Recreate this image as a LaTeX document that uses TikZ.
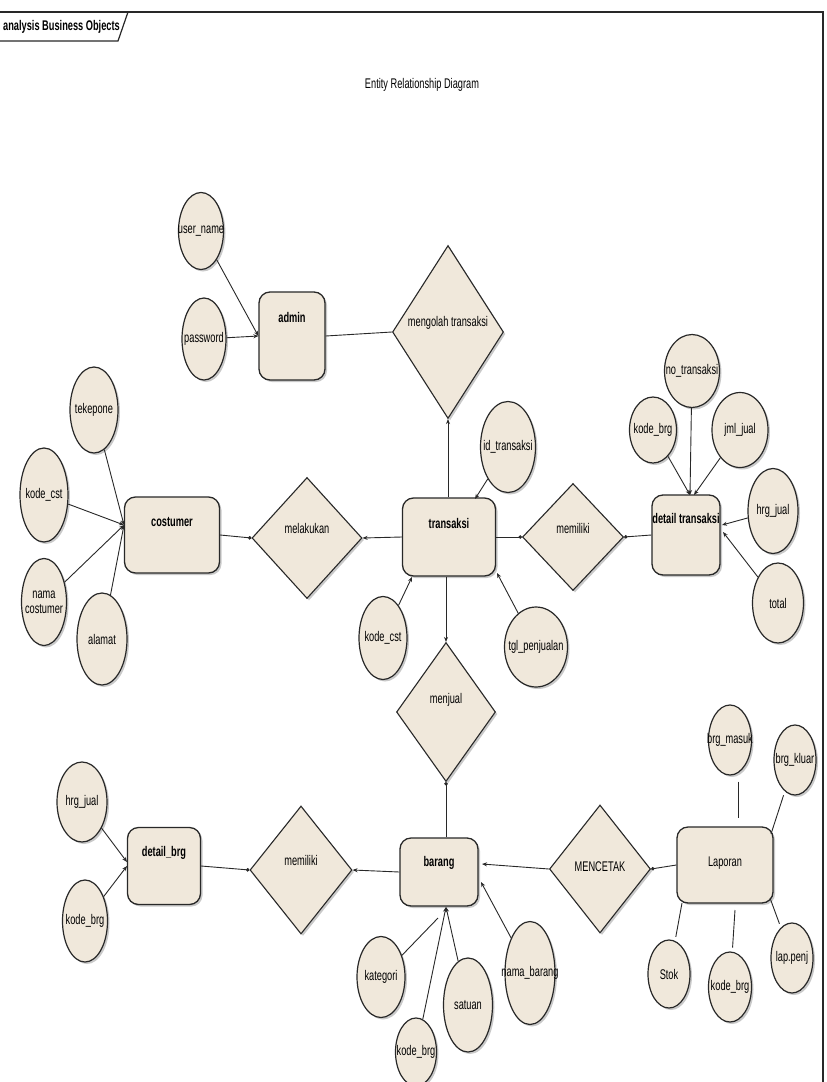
\documentclass[tikz,border=0pt]{standalone}
\usepackage{fontspec}
\setmainfont{Liberation Sans}[FakeStretch=0.66]
\usetikzlibrary{shapes.geometric,arrows.meta,shadows}
\definecolor{entfill}{RGB}{240,232,219}
\definecolor{edgec}{RGB}{40,40,40}
\begin{document}
\begin{tikzpicture}[x=1pt,y=-1pt,
  every node/.style={font=\fontsize{14}{15}\selectfont, inner sep=0pt},
  tlab/.style={font=\fontsize{14}{15}\selectfont, align=center},
  blab/.style={font=\fontsize{14}{15}\selectfont\bfseries, align=center},
  base/.style={draw=edgec, fill=entfill,
    drop shadow={shadow xshift=2pt, shadow yshift=-2pt, opacity=0.35, fill=black!60}},
  entity/.style={base, rectangle, rounded corners=11pt, line width=1.3pt},
  rel/.style={base, diamond, line width=1.1pt},
  attrib/.style={base, ellipse, line width=1.2pt},
  sz/.style 2 args={minimum width=#1pt, minimum height=#2pt},
  tx/.style={label={[tlab]center:#1}},
  pl/.style={draw=edgec, line width=0.9pt},
  ar/.style={pl, -{Stealth[length=5pt,width=4pt]}},
  dotend/.style={pl, -{Circle[length=3.5pt]}}
]
\useasboundingbox (0,0) rectangle (827,1082);
\fill[white] (0,0) rectangle (827,1082);

% frame and tab
\draw[edgec, line width=1.2pt] (0,12) -- (823,12) -- (823,1082);
\draw[edgec, line width=1.2pt] (0,12) -- (128,12) -- (118,41) -- (0,41);
\node[anchor=west, font=\fontsize{14}{15}\selectfont\bfseries] (tab) at (3,27) {analysis Business Objects};
\node (title) at (422,85) {Entity Relationship Diagram};

% entities
\node[entity, sz={66}{88}, label={[blab,yshift=19pt]center:admin}] (admin) at (292,336) {};
\node[entity, sz={95}{76}, label={[blab,yshift=13pt]center:costumer}] (cos) at (172,535) {};
\node[entity, sz={93}{78}, label={[blab,yshift=14pt]center:transaksi}] (tr) at (449,537) {};
\node[entity, sz={68}{80}, label={[blab,yshift=17pt]center:detail transaksi}] (dtr) at (686,535) {};
\node[entity, sz={78}{68}, label={[blab,yshift=9pt]center:barang}] (bar) at (439,872) {};
\node[entity, sz={73}{77}, label={[blab,yshift=13pt]center:detail\_brg}] (dbrg) at (164,866) {};
\node[entity, sz={96}{76}, label={[tlab,yshift=2pt]center:Laporan}] (lap) at (725,865) {};

% relationships
\node[rel, sz={111}{173}, label={[tlab,yshift=9pt]center:mengolah transaksi}] (mt) at (448,332) {};
\node[rel, sz={110}{121}, label={[tlab,yshift=10pt]center:melakukan}] (mel) at (307,538) {};
\node[rel, sz={101}{107}, label={[tlab,yshift=9pt]center:memiliki}] (mem1) at (573,537) {};
\node[rel, sz={99}{139}, label={[tlab,yshift=12pt]center:menjual}] (menj) at (446,712) {};
\node[rel, sz={102}{128}, label={[tlab,yshift=10pt]center:memiliki}] (mem2) at (301,870) {};
\node[rel, sz={101}{128}, label={[tlab,yshift=2pt]center:MENCETAK}] (menc) at (600,869) {};

% attributes
\node[attrib, sz={45}{77}, tx={user\_name}] (un) at (201,231) {};
\node[attrib, sz={44}{82}, tx={password}] (pw) at (204,339) {};
\node[attrib, sz={48}{86}, tx={tekepone}] (tek) at (94,410) {};
\node[attrib, sz={48}{94}, tx={kode\_cst}] (kc) at (44,495) {};
\node[attrib, sz={45}{87}, tx={nama\\costumer}] (nc) at (44,602) {};
\node[attrib, sz={50}{92}, tx={alamat}] (al) at (102,639) {};
\node[attrib, sz={55}{91}, tx={id\_transaksi}] (idt) at (508,447) {};
\node[attrib, sz={48}{83}, tx={kode\_cst}] (kc2) at (383,638) {};
\node[attrib, sz={63}{80}, tx={tgl\_penjualan}] (tgl) at (536,647) {};
\node[attrib, sz={55}{73}, tx={no\_transaksi}] (notr) at (692,371) {};
\node[attrib, sz={47}{66}, tx={kode\_brg}] (kb1) at (653,430) {};
\node[attrib, sz={56}{75}, tx={jml\_jual}] (jml) at (740,430) {};
\node[attrib, sz={50}{85}, tx={hrg\_jual}] (hj1) at (773,511) {};
\node[attrib, sz={51}{80}, tx={total}] (tot) at (778,603) {};
\node[attrib, sz={50}{80}, tx={hrg\_jual}] (hj2) at (82,802) {};
\node[attrib, sz={45}{82}, tx={kode\_brg}] (kb2) at (85,921) {};
\node[attrib, sz={48}{81}, tx={kategori}] (kat) at (381,977) {};
\node[attrib, sz={41}{68}, tx={kode\_brg}] (kb3) at (416,1052) {};
\node[attrib, sz={49}{94}, tx={satuan}] (sat) at (468,1005) {};
\node[attrib, sz={50}{103}, tx={nama\_barang}] (nb) at (530,973) {};
\node[attrib, sz={43}{70}, tx={brg\_masuk}] (bm) at (730,740) {};
\node[attrib, sz={42}{70}, tx={brg\_kluar}] (bk) at (795,760) {};
\node[attrib, sz={42}{68}, tx={Stok}] (stok) at (669,974) {};
\node[attrib, sz={43}{70}, tx={kode\_brg}] (kb4) at (730,987) {};
\node[attrib, sz={42}{70}, tx={lap.penj}] (lp) at (792,958) {};

% connector end points on entity borders
\coordinate (cj) at (124,525);
\coordinate (trNE) at (475,499);
\coordinate (trSW) at (412,577);
\coordinate (trSE) at (497,573);
\coordinate (dtj) at (690,495);
\coordinate (dtj2) at (694,495);
\coordinate (dtE1) at (722,525);
\coordinate (dtE2) at (723,532);
\coordinate (dbW1) at (127,862);
\coordinate (dbW2) at (127,866);
\coordinate (barS1) at (438,918);
\coordinate (barS2) at (446,907);
\coordinate (barE) at (481,882);
\coordinate (barE2) at (482,864);
\coordinate (lapN1) at (738,818);
\coordinate (lapNE) at (771,834);
\coordinate (lapS1) at (682,903);
\coordinate (lapS2) at (735,910);
\coordinate (lapSE) at (770,898);

% attribute connectors
\draw[ar] (un) -- (admin.west);
\draw[ar] (pw) -- (admin.west);
\draw[ar] (tek) -- (cj);
\draw[ar] (kc) -- (cj);
\draw[ar] (nc) -- (cj);
\draw[ar] (al) -- (cj);
\draw[ar] (idt) -- (trNE);
\draw[ar] (kc2) -- (trSW);
\draw[ar] (tgl) -- (trSE);
\draw[ar] (kb1) -- (dtj);
\draw[ar] (notr) -- (dtj);
\draw[ar] (jml) -- (dtj2);
\draw[ar] (hj1) -- (dtE1);
\draw[ar] (tot) -- (dtE2);
\draw[ar] (hj2) -- (dbW1);
\draw[ar] (kb2) -- (dbW2);
\draw[pl] (kat) -- (barS1);
\draw[ar] (kb3) -- (barS2);
\draw[ar] (sat) -- (barS2);
\draw[ar] (nb) -- (barE);
\draw[pl, shorten <=6pt] (bm.south -| lapN1) -- (lapN1);
\draw[pl, shorten <=4pt] (bk) -- (lapNE);
\draw[pl, shorten <=4pt] (stok) -- (lapS1);
\draw[pl, shorten <=4pt] (kb4) -- (lapS2);
\draw[pl, shorten <=4pt] (lp) -- (lapSE);

% relationship connectors
\draw[pl] (admin.east) -- (mt.west);
\draw[ar] (tr.north -| mt.south) -- (mt.south);
\draw[dotend] (cos.east) -- (mel.west);
\draw[ar] (tr.west) -- (mel.east);
\draw[dotend] (tr.east) -- (mem1.west);
\draw[dotend] (dtr.west) -- (mem1.east);
\draw[ar] (tr.south -| menj.north) -- (menj.north);
\draw[dotend] (menj.south |- bar.north) -- (menj.south);
\draw[ar] (bar.west) -- (mem2.east);
\draw[dotend] (dbrg.east) -- (mem2.west);
\draw[ar] (menc.west) -- (barE2);
\draw[dotend] (lap.west) -- (menc.east);
\end{tikzpicture}
\end{document}
